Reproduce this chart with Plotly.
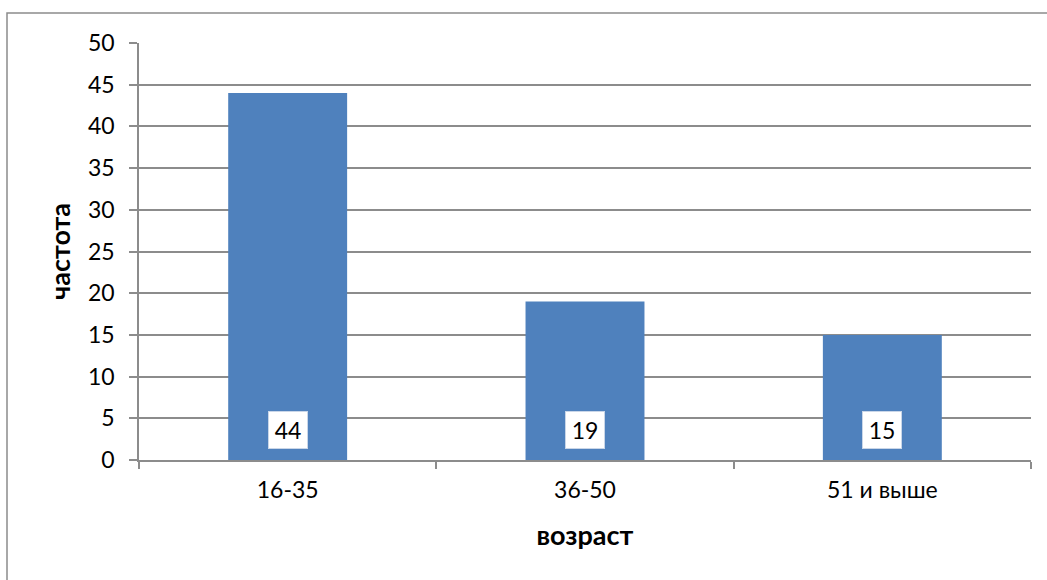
import plotly.graph_objects as go

# Age groups and their frequencies
age_groups = ["16-35", "36-50", "51 и выше"]
frequency = [44, 19, 15]
y_ticks = [0, 5, 10, 15, 20, 25, 30, 35, 40, 45, 50]

bar_color = "#4F81BD"
grid_color = "#8C8C8C"
font_family = "Lato, 'Open Sans', sans-serif"

fig = go.Figure()
fig.add_trace(go.Bar(
    x=age_groups,
    y=frequency,
    marker=dict(color=bar_color, line=dict(width=0)),
    width=0.4,
    hoverinfo="x+y",
))

# Value labels in white boxes near the base of each bar
for cat, val in zip(age_groups, frequency):
    fig.add_annotation(
        x=cat, y=0, xref="x", yref="y",
        text=str(val),
        showarrow=False,
        yanchor="bottom",
        yshift=11,
        width=36, height=34,
        bgcolor="white",
        bordercolor="#C9D6E8", borderwidth=1,
        font=dict(family=font_family, size=23, color="black"),
    )

# Chart frame
fig.add_shape(
    type="rect", xref="paper", yref="paper",
    x0=(7 - 139) / 892, x1=(1052 - 139) / 892,
    y0=(460 - 590) / 417, y1=(460 - 13) / 417,
    line=dict(color=grid_color, width=1.5),
    fillcolor="rgba(0,0,0,0)", layer="below",
)

fig.update_layout(
    width=1047, height=580,
    margin=dict(l=139, r=16, t=43, b=120),
    paper_bgcolor="white", plot_bgcolor="white",
    showlegend=False,
    bargap=0.6,
    font=dict(family=font_family, size=23, color="black"),
    xaxis=dict(
        type="category",
        tickson="boundaries",
        ticks="outside", ticklen=7, tickwidth=1.5, tickcolor=grid_color,
        showline=True, linecolor=grid_color, linewidth=1.5,
        showgrid=False,
        ticklabelstandoff=9,
        tickfont=dict(size=23),
        title=dict(text="<b>возраст</b>", font=dict(size=27), standoff=24),
    ),
    yaxis=dict(
        range=[0, 50],
        tickvals=y_ticks,
        ticks="outside", ticklen=8, tickwidth=1.5, tickcolor=grid_color,
        showline=True, linecolor=grid_color, linewidth=1.5,
        showgrid=True, gridcolor=grid_color, gridwidth=1.5,
        zeroline=False,
        ticklabelstandoff=10,
        tickfont=dict(size=23),
        title=dict(text="<b>частота</b>", font=dict(size=27), standoff=10),
    ),
)

fig.write_html("out.html")
